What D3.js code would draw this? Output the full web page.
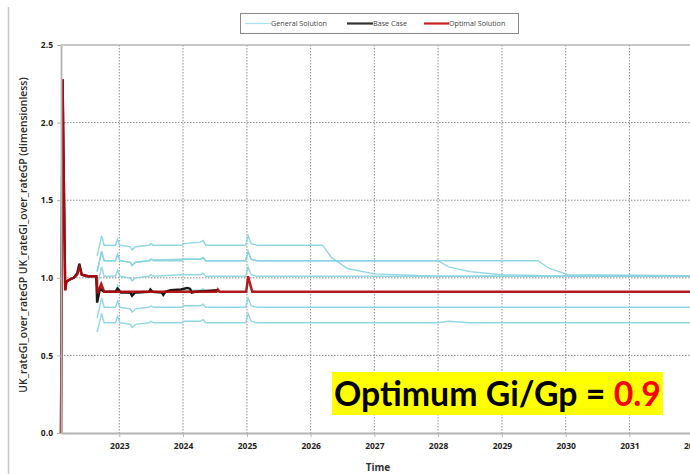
<!DOCTYPE html>
<html>
<head>
<meta charset="utf-8">
<script src="https://cdn.jsdelivr.net/npm/d3@7"></script>
<style>
  body { margin: 0; background: #fff; }
  svg { display: block; font-family: "Open Sans", sans-serif; }
</style>
</head>
<body>
<div id="chart"></div>
<script>
/* D3 line chart - UK_rateGI_over_rateGP */

// years for the time axis
const yearTicks = [2023, 2024, 2025, 2026, 2027, 2028, 2029, 2030, 2031, 2032];
const yTicks = [0, 0.5, 1.0, 1.5, 2.0, 2.5];

// optimal solution (red)
const optDates = ["2022-02-01", "2022-02-10", "2022-02-25", "2022-03-04", "2022-03-25", "2022-04-15",
  "2022-05-05", "2022-05-17", "2022-05-31", "2022-07-05", "2022-08-22", "2022-08-30", "2022-09-19",
  "2022-10-06", "2024-07-10", "2024-07-18", "2024-07-28", "2024-12-28", "2025-01-08", "2025-02-01",
  "2032-12-31"];
const optValues = [0.0, 2.28, 0.92, 0.975, 0.99, 1.0,
  1.02, 1.07, 1.02, 1.01, 1.01, 0.90, 0.96,
  0.91, 0.91, 0.925, 0.91, 0.91, 1.01, 0.91,
  0.91];

// base case (black)
const baseDates = ["2022-02-01", "2022-02-10", "2022-02-25", "2022-03-04", "2022-03-25", "2022-04-15",
  "2022-05-05", "2022-05-17", "2022-05-31", "2022-07-05", "2022-08-22", "2022-08-27", "2022-09-12",
  "2022-10-06", "2022-12-10", "2022-12-22", "2023-01-10", "2023-03-05", "2023-03-15", "2023-04-01",
  "2023-06-20", "2023-06-28", "2023-07-10", "2023-09-01", "2023-09-10", "2023-09-22", "2023-10-20",
  "2023-12-20", "2024-01-25", "2024-02-10", "2024-02-20", "2024-03-10", "2024-05-10", "2024-07-20"];
const baseValues = [0.0, 2.28, 0.92, 0.975, 0.99, 1.0,
  1.03, 1.09, 1.02, 1.01, 1.01, 0.84, 0.93,
  0.91, 0.91, 0.93, 0.905, 0.905, 0.885, 0.905,
  0.91, 0.925, 0.91, 0.905, 0.89, 0.91, 0.92,
  0.925, 0.935, 0.93, 0.905, 0.91, 0.915, 0.92];

// general solutions (cyan), all on one date grid
const genDates = ["2022-08-27", "2022-09-22", "2022-10-06", "2022-12-10", "2022-12-22", "2023-01-05",
  "2023-03-05", "2023-03-15", "2023-04-05", "2023-06-20", "2023-07-01", "2023-07-15", "2023-12-25",
  "2024-01-05", "2024-04-10", "2024-04-25", "2024-05-10", "2024-12-25", "2025-01-08", "2025-01-25",
  "2025-03-01", "2026-03-10", "2026-05-01", "2026-08-01", "2027-01-01", "2027-12-31", "2028-03-01",
  "2028-07-01", "2029-01-01", "2029-07-25", "2029-10-01", "2030-01-15", "2032-12-31"];
const gen1 = [1.14, 1.27, 1.21, 1.21, 1.25, 1.21, 1.20, 1.18, 1.20, 1.21, 1.22, 1.21, 1.21,
  1.22, 1.23, 1.24, 1.21, 1.21, 1.27, 1.22, 1.21, 1.21, 1.13, 1.06, 1.025, 1.01, 1.01,
  1.01, 1.01, 1.01, 1.01, 1.01, 1.01];
const gen2 = [1.04, 1.17, 1.11, 1.11, 1.15, 1.11, 1.10, 1.08, 1.10, 1.11, 1.12, 1.11, 1.11,
  1.12, 1.12, 1.13, 1.11, 1.11, 1.17, 1.12, 1.11, 1.11, 1.11, 1.11, 1.11, 1.11, 1.07,
  1.04, 1.02, 1.015, 1.01, 1.01, 1.01];
const gen3 = [1.04, 1.17, 1.11, 1.11, 1.15, 1.11, 1.10, 1.08, 1.10, 1.11, 1.12, 1.115, 1.12,
  1.12, 1.12, 1.13, 1.11, 1.11, 1.17, 1.12, 1.11, 1.11, 1.11, 1.11, 1.11, 1.11, 1.11,
  1.11, 1.11, 1.11, 1.06, 1.02, 1.01];
const gen4 = [0.94, 1.07, 1.01, 1.01, 1.05, 1.01, 1.00, 0.98, 1.00, 1.01, 1.02, 1.01, 1.02,
  1.02, 1.02, 1.03, 1.01, 1.01, 1.07, 1.02, 1.01, 1.01, 1.01, 1.01, 1.01, 1.01, 1.01,
  1.01, 1.01, 1.01, 1.01, 1.01, 1.01];
const gen5 = [0.84, 0.97, 0.91, 0.91, 0.95, 0.91, 0.90, 0.88, 0.90, 0.91, 0.92, 0.91, 0.91,
  0.92, 0.92, 0.93, 0.91, 0.91, 0.97, 0.92, 0.91, 0.91, 0.91, 0.91, 0.91, 0.91, 0.91,
  0.91, 0.91, 0.91, 0.91, 0.91, 0.91];
const gen6 = [0.74, 0.87, 0.81, 0.81, 0.85, 0.81, 0.80, 0.78, 0.80, 0.81, 0.82, 0.81, 0.81,
  0.82, 0.82, 0.83, 0.81, 0.81, 0.87, 0.82, 0.81, 0.81, 0.81, 0.81, 0.81, 0.81, 0.81,
  0.81, 0.81, 0.81, 0.81, 0.81, 0.81];
const gen7 = [0.65, 0.77, 0.71, 0.71, 0.75, 0.71, 0.70, 0.68, 0.70, 0.71, 0.72, 0.71, 0.71,
  0.72, 0.72, 0.73, 0.71, 0.71, 0.77, 0.72, 0.71, 0.71, 0.71, 0.71, 0.71, 0.71, 0.72,
  0.71, 0.71, 0.71, 0.71, 0.71, 0.71];
const generalSeries = [gen1, gen2, gen3, gen4, gen5, gen6, gen7];

const legendLabels = ["General Solution", "Base Case", "Optimal Solution"];

const height = 474,
  width = 690,
  margin = ({ top: 45, right: -67, bottom: 41, left: 61 });

const svg = d3.select("#chart")
  .append("svg")
  .attr("width", width)
  .attr("height", height);

let parse = d3.utcParse("%Y-%m-%d");

let x = d3.scaleUtc()
  .domain([parse("2022-02-01"), parse("2033-01-01")])
  .range([margin.left, width - margin.right]);

let y = d3.scaleLinear()
  .domain([0, 2.5])
  .range([height - margin.bottom, margin.top]);

const yearDates = yearTicks.map(d => new Date(Date.UTC(d, 0, 1)));

// outer frame line on the left
svg.append("line")
  .attr("x1", 8.5).attr("x2", 8.5)
  .attr("y1", 7).attr("y2", height)
  .attr("stroke", "#c8c8c8")
  .attr("stroke-width", 1.5);

// dotted grid
svg.append("g")
  .selectAll("line")
  .data(yearDates)
  .join("line")
  .attr("x1", d => x(d)).attr("x2", d => x(d))
  .attr("y1", y(2.5)).attr("y2", y(0))
  .attr("stroke", "#8c8c8c")
  .attr("stroke-dasharray", "1.5,1.5");

svg.append("g")
  .selectAll("line")
  .data(yTicks.filter(d => d > 0 && d < 2.5))
  .join("line")
  .attr("x1", margin.left).attr("x2", width)
  .attr("y1", d => y(d)).attr("y2", d => y(d))
  .attr("stroke", "#8c8c8c")
  .attr("stroke-dasharray", "1.5,1.5");

// top border
svg.append("line")
  .attr("x1", margin.left).attr("x2", width)
  .attr("y1", y(2.5)).attr("y2", y(2.5))
  .attr("stroke", "#b4b4b4")
  .attr("stroke-width", 1.5);

let line = d3.line()
  .x(d => x(d[0]))
  .y(d => y(d[1]));

// general solutions
generalSeries.forEach(vals => {
  svg.append("path")
    .datum(genDates.map((d, i) => [parse(d), vals[i]]))
    .attr("d", line)
    .attr("fill", "none")
    .attr("stroke", "#86d3e0")
    .attr("stroke-opacity", 0.9)
    .attr("stroke-width", 1.4);
});

// base case
svg.append("path")
  .datum(baseDates.map((d, i) => [parse(d), baseValues[i]]))
  .attr("d", line)
  .attr("fill", "none")
  .attr("stroke", "#1a1a1a")
  .attr("stroke-width", 2.4);

// optimal solution
svg.append("path")
  .datum(optDates.map((d, i) => [parse(d), optValues[i]]))
  .attr("d", line)
  .attr("fill", "none")
  .attr("stroke", "#b3090d")
  .attr("stroke-opacity", 0.92)
  .attr("stroke-width", 2.4);

// axes
const gx = svg.append("g")
  .attr("transform", `translate(0,${y(0)})`)
  .call(d3.axisBottom(x)
    .tickValues(yearDates)
    .tickFormat(d3.utcFormat("%Y"))
    .tickSize(4)
    .tickSizeOuter(0));

const gy = svg.append("g")
  .attr("transform", `translate(${margin.left},0)`)
  .call(d3.axisLeft(y)
    .tickValues(yTicks)
    .tickFormat(d3.format(".1f"))
    .tickSize(4)
    .tickSizeOuter(0));

[gx, gy].forEach(g => {
  g.select(".domain").attr("stroke", "#b4b4b4").attr("stroke-width", 1.8);
  g.selectAll(".tick line").attr("stroke", "#b4b4b4");
  g.selectAll(".tick text")
    .attr("fill", "#222")
    .attr("font-family", "Open Sans")
    .attr("font-weight", "bold")
    .attr("font-size", 8.5);
});
gx.selectAll(".tick text").attr("dy", "1.05em");
gy.selectAll(".tick text").attr("x", -8);

// axis titles
svg.append("text")
  .attr("x", 378)
  .attr("y", 471)
  .attr("text-anchor", "middle")
  .attr("font-weight", "bold")
  .attr("font-size", 10)
  .attr("fill", "#333")
  .text("Time");

svg.append("text")
  .attr("transform", "translate(27,235) rotate(-90)")
  .attr("text-anchor", "middle")
  .attr("font-weight", 600)
  .attr("font-size", 10.4)
  .attr("fill", "#2a2a2a")
  .text("UK_rateGI_over_rateGP UK_rateGI_over_rateGP (dimensionless)");

// legend
const legend = svg.append("g");
legend.append("rect")
  .attr("x", 240.5).attr("y", 13.5)
  .attr("width", 278).attr("height", 20)
  .attr("fill", "#fff")
  .attr("stroke", "#8a8a8a");

const legendColors = ["#a6e0ea", "#333", "#cc2020"];
const legendLine = [[245, 271], [347, 373], [424, 449]];
legendLabels.forEach((t, i) => {
  legend.append("line")
    .attr("x1", legendLine[i][0]).attr("x2", legendLine[i][1])
    .attr("y1", 23.5).attr("y2", 23.5)
    .attr("stroke", legendColors[i])
    .attr("stroke-width", i === 0 ? 1.2 : 2.2);
  legend.append("text")
    .attr("x", legendLine[i][1])
    .attr("y", 26)
    .attr("font-size", 7.2)
    .attr("fill", "#444")
    .text(t);
});

// annotation
svg.append("rect")
  .attr("x", 332).attr("y", 372)
  .attr("width", 331).attr("height", 43)
  .attr("fill", "#ffff00");

const note = svg.append("text")
  .attr("x", 334)
  .attr("y", 406)
  .attr("font-family", "Lato, sans-serif")
  .attr("font-weight", "bold")
  .attr("font-size", 33);
note.append("tspan").attr("fill", "#000").text("Optimum Gi/Gp = ");
note.append("tspan").attr("fill", "#ff0000").text("0.9");

// fit width to the yellow box
const w = note.node().getComputedTextLength();
note.attr("font-size", 33 * 327 / w);
</script>
</body>
</html>
